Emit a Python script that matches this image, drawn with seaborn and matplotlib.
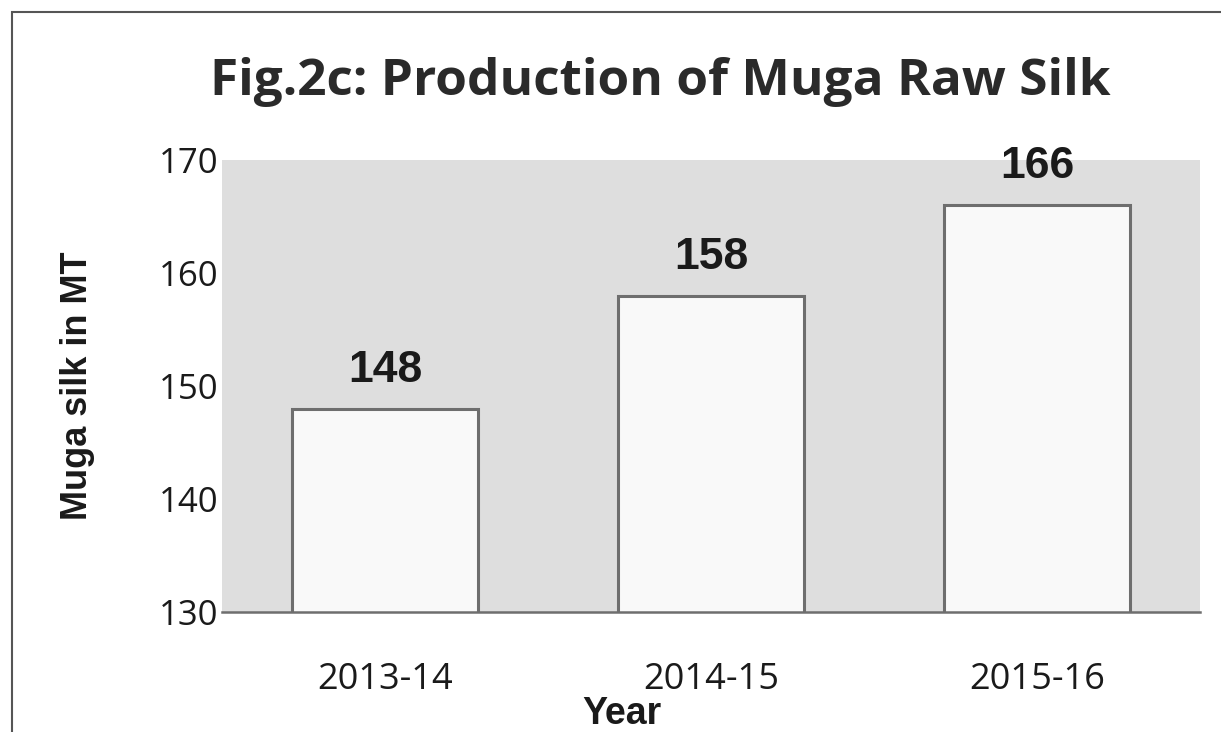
import matplotlib
matplotlib.use("Agg")
import matplotlib.pyplot as plt
from matplotlib.patches import Rectangle
import seaborn as sns
import pandas as pd

# Data
years = ["2013-14", "2014-15", "2015-16"]
production = [148, 158, 166]
y_ticks = [130, 140, 150, 160, 170]

df = pd.DataFrame({"Year": years, "Production": production})

sns.set_theme(style="white")
plt.rcParams["font.family"] = ["Open Sans", "DejaVu Sans"]

fig = plt.figure(figsize=(12.21, 7.32), dpi=100)
ax = fig.add_axes([0.182, 0.164, 0.801, 0.617])
ax.set_facecolor("#dedede")

sns.barplot(data=df, x="Year", y="Production", ax=ax, color="#f9f9f9",
            edgecolor="#6e6e6e", linewidth=2.2, width=0.57, saturation=1)

ax.set_ylim(130, 170)
ax.set_xlim(-0.5, 2.5)
ax.set_yticks(y_ticks)
ax.tick_params(axis="y", length=0, labelsize=25, pad=3, labelcolor="#1a1a1a")
ax.tick_params(axis="x", length=0, labelsize=26, pad=36, labelcolor="#1a1a1a")

for s in ["top", "right", "left"]:
    ax.spines[s].set_visible(False)
ax.spines["bottom"].set_color("#6e6e6e")
ax.spines["bottom"].set_linewidth(1.8)

# value labels above bars
for i, v in enumerate(production):
    ax.text(i, v + 1.6, str(v), ha="center", va="bottom", fontsize=32,
            fontweight="bold", family="Liberation Sans", color="#1a1a1a")

ax.set_ylabel("Muga silk in MT", fontsize=26, fontweight="bold",
              family="Liberation Sans", color="#1a1a1a")
ax.yaxis.set_label_coords(-0.13, 0.5)
ax.set_xlabel("Year", fontsize=27, fontweight="bold",
              family="Liberation Sans", color="#1a1a1a")
ax.xaxis.set_label_coords(0.409, -0.225)
ax.xaxis.label.set_va("center")

fig.text(0.541, 0.888, "Fig.2c: Production of Muga Raw Silk", ha="center",
         va="center", fontsize=37, fontweight="bold", color="#2a2a2a")

# outer frame of the scanned figure (left and top edges visible)
fig.patches.append(Rectangle((0.0098, -0.5), 2, 0.984 + 0.5,
                             transform=fig.transFigure, fill=False,
                             edgecolor="#555555", linewidth=1.5))

fig.savefig("out.png", dpi=100)
